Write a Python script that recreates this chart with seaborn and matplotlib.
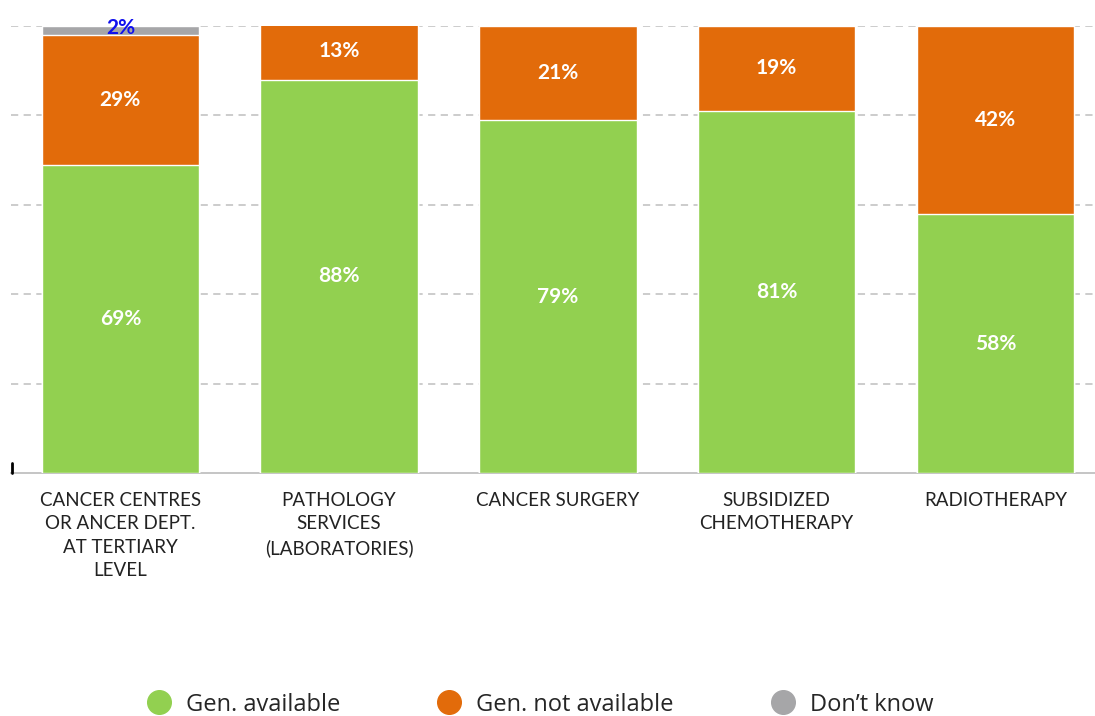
import numpy as np
import pandas as pd
import matplotlib
matplotlib.use("Agg")
import matplotlib.pyplot as plt
from matplotlib.lines import Line2D
import seaborn as sns

# Data ------------------------------
categories = [
    "CANCER CENTRES\nOR ANCER DEPT.\nAT TERTIARY\nLEVEL",
    "PATHOLOGY\nSERVICES\n(LABORATORIES)",
    "CANCER SURGERY",
    "SUBSIDIZED\nCHEMOTHERAPY",
    "RADIOTHERAPY",
]
available = [69, 88, 79, 81, 58]
not_available = [29, 13, 21, 19, 42]
dont_know = [2, 0, 0, 0, 0]
series_names = ["Gen. available", "Gen. not available", "Don\u2019t know"]

c_green = "#92d050"
c_orange = "#e26b0a"
c_gray = "#a6a6a8"

sns.set_style("white", {"axes.grid": False})
plt.rcParams["font.family"] = ["Lato", "DejaVu Sans"]

df = pd.DataFrame({"cat": categories, "avail": available,
                   "notav": not_available, "dk": dont_know})
df["lvl2"] = df.avail + df.notav
df["lvl3"] = df.lvl2 + df.dk

fig = plt.figure(figsize=(10.95, 7.16), dpi=100)
ax = fig.add_axes([0.010, 0.339, 0.990, 0.6247])

# stacked by overdrawing cumulative totals
for col, colr in [("lvl3", c_gray), ("lvl2", c_orange), ("avail", c_green)]:
    sns.barplot(data=df, x="cat", y=col, color=colr, width=0.72,
                edgecolor="white", linewidth=1, saturation=1, ax=ax, zorder=3)

ax.set_ylim(0, 100)
ax.set_xlim(-0.5, 4.455)
ax.set_yticks([20, 40, 60, 80, 100])
ax.yaxis.grid(True, linestyle=(0, (4, 3)), color="#c8c8c8", linewidth=1.3, zorder=0)
ax.set_axisbelow(True)
ax.tick_params(axis="y", left=False, labelleft=False)
ax.tick_params(axis="x", bottom=False, labelsize=13.5, labelcolor="#222222", pad=10)
ax.set_xlabel("")
ax.set_ylabel("")
sns.despine(ax=ax, left=True, top=True, right=True)
ax.spines["bottom"].set_color("#c0c0c0")
ax.spines["bottom"].set_linewidth(1.3)
# little mark at the left end of the axis
ax.plot([-0.5 + 0.005, -0.5 + 0.005], [0, 2.2], color="black", lw=2, clip_on=False, zorder=4)

# value labels
for i in range(len(categories)):
    a, n, d = available[i], not_available[i], dont_know[i]
    ax.text(i, a / 2, f"{a}%", ha="center", va="center", color="white",
            fontsize=15, fontweight="bold", zorder=5)
    if n:
        ax.text(i, a + n / 2, f"{n}%", ha="center", va="center", color="white",
                fontsize=15, fontweight="bold", zorder=5)
    if d:
        ax.text(i, a + n + d / 2 + 0.5, f"{d}%", ha="center", va="center", color="#1010ee",
                fontsize=15, fontweight="bold", zorder=5, clip_on=False)

for lbl in ax.get_xticklabels():
    lbl.set_linespacing(1.45)
    lbl.set_va("top")

handles = [Line2D([], [], marker="o", linestyle="", markersize=17, color=c)
           for c in [c_green, c_orange, c_gray]]
fig.legend(handles, series_names, loc="center", bbox_to_anchor=(0.488, 0.016),
           ncol=3, frameon=False, handletextpad=0.15,
           columnspacing=3.6, prop={"family": ["Open Sans", "DejaVu Sans"], "size": 17})

fig.savefig("out.png", dpi=100)
